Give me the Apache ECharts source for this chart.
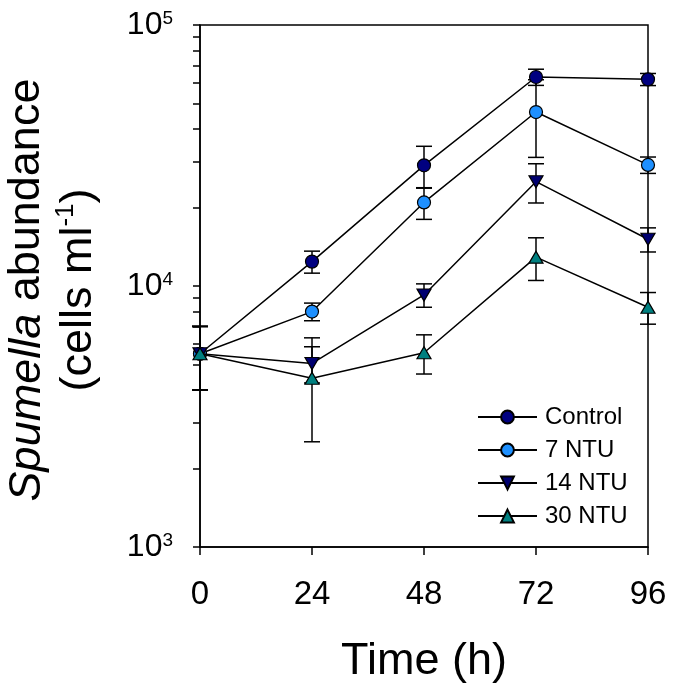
<!DOCTYPE html>
<html><head><meta charset="utf-8">
<script src="https://cdn.jsdelivr.net/npm/echarts@6/dist/echarts.min.js"></script>
<style>html,body{margin:0;padding:0;background:#fff}#c{width:683px;height:690px}</style>
</head><body><div id="c"></div>
<script>
const times = [0, 24, 48, 72, 96];
const seriesNames = ['Control', '7 NTU', '14 NTU', '30 NTU'];
const controlVals = [5500, 12400, 29000, 63200, 61900];
const controlErr  = [1500, 1200, 5300, 4500, 3300];
const ntu7Vals    = [5500, 7980, 20900, 46400, 29100];
const ntu7Err     = [1500, 620, 2900, 15300, 2100];
const ntu14Vals   = [5500, 5050, 9240, 25100, 15100];
const ntu14Err    = [1500, 800, 950, 4300, 1600];
const ntu30Vals   = [5500, 4430, 5550, 12900, 8290];
const ntu30Err    = [1500, 1900, 950, 2400, 1150];
const yTickValues = [1000, 10000, 100000];
const yMinorTicks = [1000,2000,3000,4000,5000,6000,7000,8000,9000,10000,20000,30000,40000,50000,60000,70000,80000,90000,100000];
const xTickValues = [0, 24, 48, 72, 96];

const FONT = 'Liberation Sans, Arial, Helvetica, sans-serif';
const colors = ['#000080', '#1e90ff', '#000070', '#008080'];
const symbols = ['circle', 'circle', 'triangle', 'triangle'];
const rotates = [0, 0, 180, 0];
const sizes = [13, 13, [14, 12], [14, 12]];
const allVals = [controlVals, ntu7Vals, ntu14Vals, ntu30Vals];
const allErr = [controlErr, ntu7Err, ntu14Err, ntu30Err];

function renderErr(params, api) {
  const x = api.value(0), v = api.value(1), e = api.value(2);
  const top = api.coord([x, v + e]);
  const bot = api.coord([x, v - e]);
  const hw = 8;
  const st = { stroke: '#000', lineWidth: 1.5 };
  return { type: 'group', children: [
    { type: 'line', shape: { x1: top[0], y1: top[1], x2: bot[0], y2: bot[1] }, style: st },
    { type: 'line', shape: { x1: top[0] - hw, y1: top[1], x2: top[0] + hw, y2: top[1] }, style: st },
    { type: 'line', shape: { x1: bot[0] - hw, y1: bot[1], x2: bot[0] + hw, y2: bot[1] }, style: st }
  ]};
}

const series = [];
allVals.forEach((vals, k) => {
  series.push({
    type: 'custom', name: seriesNames[k] + ' err', z: 1,
    renderItem: renderErr,
    dimensions: ['x', 'y', 'e'],
    encode: { x: 0, y: 1 },
    data: times.map((t, i) => [t, vals[i], allErr[k][i]]),
    silent: true
  });
});
allVals.forEach((vals, k) => {
  series.push({
    type: 'line', name: seriesNames[k], z: 2 + k,
    data: times.map((t, i) => [t, vals[i]]),
    symbol: symbols[k], symbolSize: sizes[k], symbolRotate: rotates[k],
    showAllSymbol: true,
    lineStyle: { color: '#000', width: 1.5 },
    itemStyle: { color: colors[k], borderColor: '#000', borderWidth: 1.2 },
    emphasis: { disabled: true },
    animation: false
  });
});

const chart = echarts.init(document.getElementById('c'), null, { renderer: 'canvas' });
chart.setOption({
  animation: false,
  backgroundColor: '#fff',
  textStyle: { fontFamily: FONT, color: '#000' },
  grid: { left: 200, right: 35, top: 25, bottom: 143, show: true, borderColor: '#000', borderWidth: 1.5, backgroundColor: 'transparent' },
  legend: {
    data: seriesNames, orient: 'vertical', left: 477, top: 405, padding: 0,
    itemWidth: 59, itemHeight: 16, itemGap: 9,
    textStyle: { fontSize: 24, color: '#000', fontFamily: FONT, padding: [0, 0, 0, 3] }
  },
  xAxis: {
    type: 'value', min: 0, max: 96, interval: 24,
    axisLine: { show: true, onZero: false, lineStyle: { color: '#000', width: 1.5 } },
    axisTick: { show: true, inside: false, length: 8, lineStyle: { color: '#000', width: 1.5 } },
    axisLabel: { fontSize: 33, margin: 31, color: '#000', fontFamily: FONT, customValues: xTickValues },
    splitLine: { show: false },
    name: 'Time (h)', nameLocation: 'middle', nameGap: 92,
    nameTextStyle: { fontSize: 45, color: '#000', fontFamily: FONT }
  },
  yAxis: {
    type: 'log', logBase: 10, min: 1000, max: 100000,
    axisLine: { show: true, lineStyle: { color: '#000', width: 1.5 } },
    axisTick: { show: true, inside: false, length: 7, customValues: yMinorTicks, lineStyle: { color: '#000', width: 1.5 } },
    minorTick: { show: false },
    axisLabel: {
      customValues: yTickValues, margin: 27, color: '#000',
      formatter: function (v) { return '{b|10}{s|' + Math.round(Math.log10(v)) + '}'; },
      rich: {
        b: { fontSize: 32, lineHeight: 32, fontFamily: FONT, color: '#000' },
        s: { fontSize: 19, lineHeight: 19, verticalAlign: 'top', fontFamily: FONT, color: '#000' }
      }
    },
    splitLine: { show: false }
  },
  graphic: [{
    type: 'text', x: 53, y: 290, rotation: Math.PI / 2,
    style: {
      text: '{i|Spumella}{n| abundance}\n{n|(cells ml}{s|-1}{n|)}',
      align: 'center', verticalAlign: 'middle', fill: '#000',
      rich: {
        i: { fontSize: 45, fontStyle: 'italic', lineHeight: 52, fontFamily: FONT, fill: '#000' },
        n: { fontSize: 45, lineHeight: 52, fontFamily: FONT, fill: '#000' },
        s: { fontSize: 26, lineHeight: 30, verticalAlign: 'top', fontFamily: FONT, fill: '#000' }
      }
    }
  }],
  series: series
});
</script>
</body></html>
